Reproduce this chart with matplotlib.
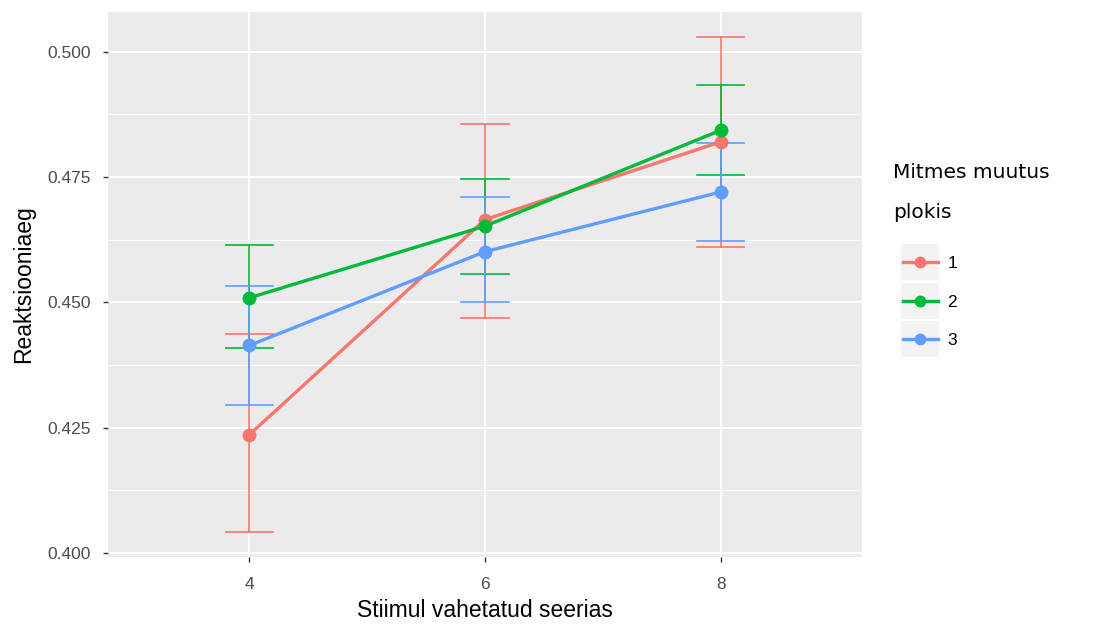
import matplotlib
matplotlib.use("Agg")
import matplotlib.pyplot as plt
from matplotlib.lines import Line2D
from matplotlib.patches import Rectangle
import numpy as np

# ---- data ----
x_labels = ["4", "6", "8"]
groups = ["1", "2", "3"]
colors = ["#F8766D", "#00BA38", "#619CFF"]
means = {
    "1": [0.4236, 0.4665, 0.4820],
    "2": [0.4509, 0.4652, 0.4843],
    "3": [0.4414, 0.4601, 0.4720],
}
lower = {
    "1": [0.4041, 0.4468, 0.4610],
    "2": [0.4408, 0.4557, 0.4753],
    "3": [0.4295, 0.4501, 0.4622],
}
upper = {
    "1": [0.4436, 0.4856, 0.5030],
    "2": [0.4614, 0.4745, 0.4933],
    "3": [0.4532, 0.4710, 0.4817],
}
y_ticks = [0.400, 0.425, 0.450, 0.475, 0.500]
y_ticklabels = ["0.400", "0.425", "0.450", "0.475", "0.500"]
x_title = "Stiimul vahetatud seerias"
y_title = "Reaktsiooniaeg"
legend_title = ["Mitmes muutus", "plokis"]

W, H = 1094, 627
fig = plt.figure(figsize=(W / 100, H / 100), dpi=100)
fig.patch.set_facecolor("white")
ax = fig.add_axes([108 / W, 1 - 557 / H, (862 - 108) / W, (557 - 12) / H])
ax.set_facecolor("#EBEBEB")
for s in ax.spines.values():
    s.set_visible(False)

xpos = np.arange(len(x_labels))
ax.set_xlim(-0.6, len(x_labels) - 1 + 0.6)
ax.set_ylim(0.3992, 0.5079)

# gridlines
for yv in y_ticks:
    ax.axhline(yv, color="white", lw=1.3, zorder=0.5)
for i in range(len(y_ticks) - 1):
    ax.axhline((y_ticks[i] + y_ticks[i + 1]) / 2, color="white", lw=0.6, zorder=0.5)
for xv in xpos:
    ax.axvline(xv, color="white", lw=1.3, zorder=0.5)

ax.set_xticks(xpos)
ax.set_xticklabels(x_labels)
ax.set_yticks(y_ticks)
ax.set_yticklabels(y_ticklabels)
ax.tick_params(axis="both", colors="#333333", length=3.5, width=1.0, labelsize=12.5,
               labelcolor="#4D4D4D")
ax.tick_params(axis="y", pad=9)
ax.tick_params(axis="x", pad=11)
for lab in ax.get_xticklabels() + ax.get_yticklabels():
    lab.set_family("Liberation Sans")

ax.set_xlabel(x_title, fontsize=16.5, family="Liberation Sans", color="black", labelpad=5)
ax.set_ylabel(y_title, fontsize=16.5, family="Liberation Sans", color="black", labelpad=9)

cap = 0.1
# error bars first
for g, c in zip(groups, colors):
    for xi, lo, hi in zip(xpos, lower[g], upper[g]):
        ax.plot([xi, xi], [lo, hi], color=c, lw=1.2, zorder=2)
        ax.plot([xi - cap, xi + cap], [lo, lo], color=c, lw=1.2, zorder=2)
        ax.plot([xi - cap, xi + cap], [hi, hi], color=c, lw=1.2, zorder=2)
# lines
for g, c in zip(groups, colors):
    ax.plot(xpos, means[g], color=c, lw=2.4, zorder=3, solid_capstyle="butt")
# points
for g, c in zip(groups, colors):
    ax.plot(xpos, means[g], color=c, lw=0, marker="o", markersize=10,
            markeredgewidth=0, zorder=4)

# legend title
fig.text(893 / W, 1 - 172 / H, legend_title[0], family="DejaVu Sans", fontsize=14.5,
         va="center", ha="left", color="black")
fig.text(893 / W, 1 - 213 / H, legend_title[1], family="DejaVu Sans", fontsize=14.5,
         va="center", ha="left", color="black")

# legend items
handles = [Line2D([0], [0], color=c, lw=2.4, marker="o", markersize=8.5, markeredgewidth=0)
           for c in colors]
leg = fig.legend(handles, groups, loc="upper left",
                 bbox_to_anchor=(896 / W, 1 - 249 / H), frameon=False,
                 handlelength=2.0, handletextpad=0.55, labelspacing=1.35,
                 borderaxespad=0, borderpad=0.4,
                 prop={"family": "Liberation Sans", "size": 12.5})

fig.canvas.draw()
renderer = fig.canvas.get_renderer()
inv = fig.transFigure.inverted()
for ln in leg.get_lines():
    bb = ln.get_window_extent(renderer)
    cx = (bb.x0 + bb.x1) / 2
    cy = (bb.y0 + bb.y1) / 2
    w, h = 38, 36
    (fx0, fy0) = inv.transform((cx - w / 2, cy - h / 2))
    (fx1, fy1) = inv.transform((cx + w / 2, cy + h / 2))
    fig.patches.append(Rectangle((fx0, fy0), fx1 - fx0, fy1 - fy0, transform=fig.transFigure,
                                 facecolor="#F2F2F2", edgecolor="none", zorder=-1))

fig.savefig("out.png", dpi=100)
